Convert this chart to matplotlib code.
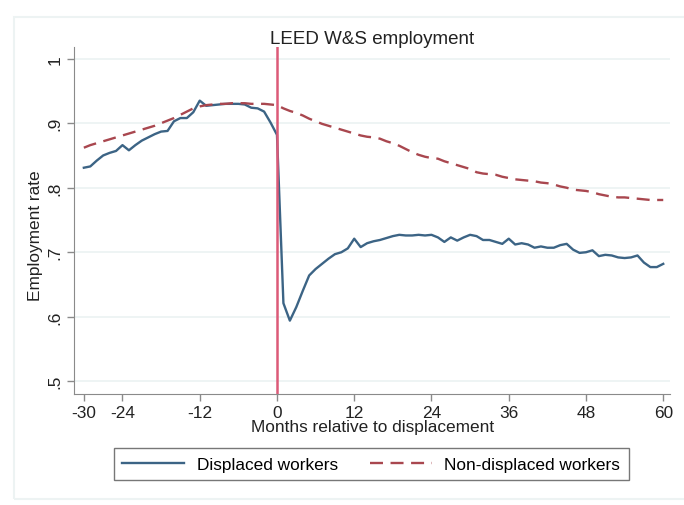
import numpy as np
import matplotlib.pyplot as plt
from matplotlib.patches import Rectangle

plt.rcParams['font.family'] = ['Liberation Sans', 'DejaVu Sans']

# months relative to displacement
months = np.arange(-30, 61)

# employment rate, displaced workers
displaced = [
    0.831, 0.833, 0.842, 0.850, 0.854, 0.857, 0.866, 0.858, 0.866, 0.873,
    0.878, 0.883, 0.887, 0.888, 0.903, 0.908, 0.908, 0.917, 0.935, 0.927,
    0.928, 0.929, 0.930, 0.930, 0.930, 0.929, 0.924, 0.923, 0.918, 0.901,
    0.882,
    0.621, 0.594, 0.615, 0.640, 0.664, 0.674, 0.682, 0.690, 0.697, 0.700,
    0.706, 0.721, 0.708, 0.714, 0.717, 0.719, 0.722, 0.725, 0.727, 0.726,
    0.726, 0.727, 0.726, 0.727, 0.723, 0.716, 0.723, 0.718, 0.723, 0.727,
    0.725, 0.719, 0.719, 0.716, 0.713, 0.721, 0.712, 0.714, 0.712, 0.707,
    0.709, 0.707, 0.707, 0.711, 0.713, 0.704, 0.699, 0.700, 0.703, 0.694,
    0.696, 0.695, 0.692, 0.691, 0.692, 0.695, 0.684, 0.677, 0.677, 0.682,
]

# employment rate, non-displaced workers
non_displaced = [
    0.862, 0.866, 0.869, 0.872, 0.875, 0.878, 0.881, 0.884, 0.887, 0.890,
    0.893, 0.896, 0.900, 0.904, 0.908, 0.913, 0.918, 0.923, 0.926, 0.928,
    0.929, 0.930, 0.930, 0.931, 0.931, 0.931, 0.930, 0.930, 0.930, 0.929,
    0.928,
    0.923, 0.919, 0.916, 0.912, 0.907, 0.903, 0.899, 0.896, 0.893, 0.890,
    0.887, 0.884, 0.881, 0.879, 0.878, 0.876, 0.872, 0.869, 0.865, 0.860,
    0.855, 0.851, 0.848, 0.846, 0.845, 0.841, 0.838, 0.835, 0.832, 0.829,
    0.824, 0.822, 0.821, 0.820, 0.817, 0.815, 0.813, 0.812, 0.811, 0.810,
    0.808, 0.807, 0.805, 0.802, 0.800, 0.797, 0.796, 0.795, 0.793, 0.790,
    0.788, 0.786, 0.785, 0.785, 0.784, 0.783, 0.782, 0.781, 0.781, 0.781,
]

x_ticks = [-30, -24, -12, 0, 12, 24, 36, 48, 60]
y_ticks = [0.5, 0.6, 0.7, 0.8, 0.9, 1.0]
y_labels = ['.5', '.6', '.7', '.8', '.9', '1']

FS = 12.4

fig = plt.figure(figsize=(6.84, 5.06), dpi=100)
# faint outer graph-region frame
fig.patches.append(Rectangle((0.02, 0.012), 0.985, 0.953, transform=fig.transFigure,
                             fill=False, edgecolor='#edf3f3', linewidth=1.5))

ax = fig.add_axes([0.108, 0.219, 0.872, 0.686])
ax.set_xlim(-31.55, 61.1)
ax.set_ylim(0.48, 1.018)

ax.plot(months, displaced, color='#3c6485', linewidth=1.7, label='Displaced workers')
ax.plot(months, non_displaced, color='#a9474f', linewidth=1.7, linestyle=(0, (5.5, 3.2)),
        label='Non-displaced workers')
ax.axvline(0, color='#dc5a78', linewidth=1.8)

ax.set_yticks(y_ticks)
ax.set_yticklabels(y_labels, rotation=90, va='center')
ax.set_xticks(x_ticks)
ax.set_xticklabels([str(t) for t in x_ticks])
ax.tick_params(axis='both', colors='#8a8a8a', labelcolor='#222222', labelsize=FS,
               length=5, width=1, pad=3)
ax.grid(axis='y', color='#eef4f4', linewidth=1.4)
ax.set_axisbelow(True)

for side in ('top', 'right'):
    ax.spines[side].set_visible(False)
for side in ('left', 'bottom'):
    ax.spines[side].set_color('#8a8a8a')

ax.set_title('LEED W&S employment', fontsize=13.5, color='#222222', pad=3)
ax.set_xlabel('Months relative to displacement', fontsize=FS, color='#222222', labelpad=-1)
ax.set_ylabel('Employment rate', fontsize=FS, color='#222222')
ax.yaxis.set_label_coords(-0.052, 0.46)

leg = fig.legend(loc='center', bbox_to_anchor=(0.543, 0.081), ncol=2, fontsize=FS,
                 frameon=True, fancybox=False, handlelength=3.55, handletextpad=0.75,
                 columnspacing=1.9, borderpad=0.5, edgecolor='#555555')
leg.get_frame().set_linewidth(1.0)

fig.savefig('out.png', dpi=100, facecolor='white')
